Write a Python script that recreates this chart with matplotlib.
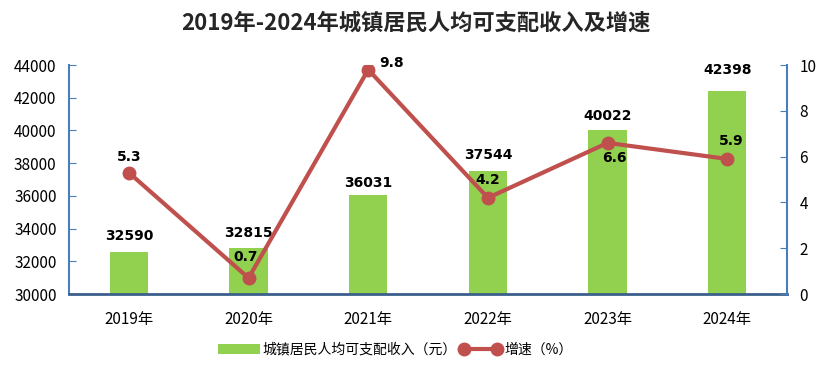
import matplotlib
matplotlib.use("Agg")
import matplotlib.pyplot as plt
import numpy as np

plt.rcParams['font.family'] = ['Noto Sans CJK SC', 'DejaVu Sans']

years = ['2019年', '2020年', '2021年', '2022年', '2023年', '2024年']
income = [32590, 32815, 36031, 37544, 40022, 42398]
growth = [5.3, 0.7, 9.8, 4.2, 6.6, 5.9]

axis_col = '#4A7EBB'
base_col = '#3B5F8C'
bar_col = '#92D050'
line_col = '#C0504D'

fig = plt.figure(figsize=(8.32, 3.76), dpi=100)
ax = fig.add_axes([0.083, 0.218, 0.863, 0.609])
x = np.arange(len(years))

ax.bar(x, income, width=0.32, color=bar_col, label='城镇居民人均可支配收入（元）', zorder=2)
ax.set_ylim(30000, 44000)
ax.set_yticks(np.arange(30000, 44001, 2000))
ax.set_xlim(-0.5, len(years) - 0.5)
ax.set_xticks(x)
ax.set_xticklabels(years, fontsize=11)
ax.tick_params(axis='y', labelsize=11, direction='in', color=axis_col, length=5, pad=9)
ax.tick_params(axis='x', length=0, pad=12)
for s in ['top', 'right']:
    ax.spines[s].set_visible(False)
ax.spines['left'].set_color(axis_col)
ax.spines['bottom'].set_color(base_col)
ax.spines['left'].set_linewidth(1.5)
ax.spines['bottom'].set_linewidth(2)

# bar labels, offsets in points above the bar top (label centre)
bar_off = [11, 11, 9, 11, 10, 15]
for xi, v, off in zip(x, income, bar_off):
    ax.annotate(str(v), (xi, v), xytext=(0, off), textcoords='offset points',
                ha='center', va='center', fontsize=10, fontweight='bold', family='DejaVu Sans')

ax2 = ax.twinx()
ax2.plot(x, growth, color=line_col, lw=3, marker='o', markersize=9,
         label='增速（%）', zorder=3)
ax2.set_ylim(0, 10)
ax2.set_yticks(np.arange(0, 11, 2))
ax2.tick_params(axis='y', labelsize=11, direction='in', color=axis_col, length=5, pad=9)
for s in ['top', 'left', 'bottom']:
    ax2.spines[s].set_visible(False)
ax2.spines['right'].set_color(axis_col)
ax2.spines['right'].set_linewidth(1.5)

# growth labels, (dx, dy) in points from the marker to the label centre
line_off = [(0, 11), (-2, 15), (17, 5), (0, 13), (5, -11), (3, 13)]
for xi, g, (dx, dy) in zip(x, growth, line_off):
    ax2.annotate(str(g), (xi, g), xytext=(dx, dy), textcoords='offset points',
                 ha='center', va='center', fontsize=10, fontweight='bold', family='DejaVu Sans')

fig.suptitle('2019年-2024年城镇居民人均可支配收入及增速', x=0.5, y=0.97,
             fontsize=16, fontweight='bold', color='#262626')

h1, l1 = ax.get_legend_handles_labels()
h2, l2 = ax2.get_legend_handles_labels()
fig.legend(h1 + h2, l1 + l2, loc='center', bbox_to_anchor=(0.475, 0.07), ncol=2,
           frameon=False, fontsize=10, handlelength=3.0, numpoints=2,
           columnspacing=0.2, handletextpad=0.2)

fig.savefig('out.png', dpi=100)
